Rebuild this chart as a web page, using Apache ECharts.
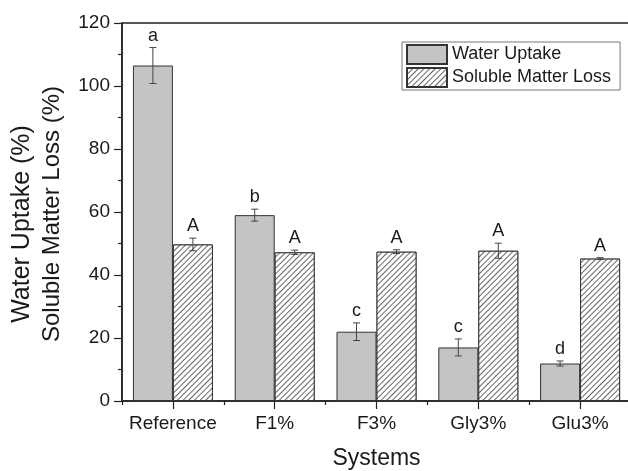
<!DOCTYPE html>
<html>
<head>
<meta charset="utf-8">
<script src="https://cdn.jsdelivr.net/npm/echarts@6/dist/echarts.min.js"></script>
<style>
  html, body { margin: 0; padding: 0; background: #fff; }
  #chart { width: 628px; height: 471px; }
</style>
</head>
<body>
<div id="chart"></div>
<script>
// Systems tested and their measured properties (%)
const categories = ['Reference', 'F1%', 'F3%', 'Gly3%', 'Glu3%'];
const waterUptake = [106.5, 59.0, 22.0, 17.0, 11.9];
const waterUptakeErr = [5.7, 1.9, 2.8, 2.7, 0.8];
const solubleLoss = [49.7, 47.2, 47.4, 47.7, 45.2];
const solubleLossErr = [2.0, 0.7, 0.6, 2.4, 0.3];
// Significance groups (Tukey letters)
const waterLetters = ['a', 'b', 'c', 'c', 'd'];
const lossLetters = ['A', 'A', 'A', 'A', 'A'];
const yTicks = { min: 0, max: 120, interval: 20 };
const yTitleLines = ['Water Uptake (%)', 'Soluble Matter Loss (%)'];

const FONT = '"Liberation Sans", Arial, Helvetica, sans-serif';
const BAR_W = 40;
const INK = '#1a1a1a';

function errorSeries(values, errs, letters, shift) {
  return {
    type: 'custom',
    z: 5,
    silent: true,
    data: values.map((v, i) => [i, v, errs[i]]),
    renderItem: function (params, api) {
      const idx = api.value(0);
      const v = api.value(1);
      const e = api.value(2);
      const letter = letters[idx];
      const hi = api.coord([idx, v + e]);
      const lo = api.coord([idx, v - e]);
      const x = hi[0] + shift;
      const cap = 3.5;
      const stroke = { stroke: '#444', lineWidth: 1 };
      return {
        type: 'group',
        children: [
          { type: 'line', shape: { x1: x, y1: hi[1], x2: x, y2: lo[1] }, style: stroke },
          { type: 'line', shape: { x1: x - cap, y1: hi[1], x2: x + cap, y2: hi[1] }, style: stroke },
          { type: 'line', shape: { x1: x - cap, y1: lo[1], x2: x + cap, y2: lo[1] }, style: stroke },
          {
            type: 'text',
            style: {
              text: letter, x: x, y: hi[1] - 12,
              align: 'center', verticalAlign: 'middle',
              textAlign: 'center', textVerticalAlign: 'middle',
              fill: INK, font: '18px ' + FONT
            }
          }
        ]
      };
    }
  };
}

function yTitle(text, x, y, size) {
  return {
    type: 'text',
    x: x, y: y,
    rotation: Math.PI / 2,
    style: {
      text: text,
      align: 'center', verticalAlign: 'middle',
      textAlign: 'center', textVerticalAlign: 'middle',
      fill: INK, font: size + 'px ' + FONT
    }
  };
}

const chart = echarts.init(document.getElementById('chart'), null, { renderer: 'canvas' });

chart.setOption({
  animation: false,
  backgroundColor: '#ffffff',
  textStyle: { fontFamily: FONT, color: INK },
  grid: {
    left: 122, top: 23, width: 509, height: 378,
    outerBoundsMode: 'none',
    containLabel: false,
    show: true, borderColor: '#222', borderWidth: 1.5, backgroundColor: 'transparent'
  },
  legend: {
    orient: 'vertical',
    left: 402, top: 42,
    padding: [2, 9, 2, 4],
    itemGap: 2,
    itemWidth: 40, itemHeight: 19,
    borderColor: '#777', borderWidth: 1,
    icon: 'rect',
    data: ['Water Uptake', 'Soluble Matter Loss'],
    textStyle: { fontSize: 18, color: INK, fontFamily: FONT }
  },
  graphic: [
    yTitle(yTitleLines[0], 22, 224, 25),
    yTitle(yTitleLines[1], 52, 214, 24)
  ],
  xAxis: [{
    type: 'category',
    data: categories,
    name: 'Systems',
    nameLocation: 'middle',
    nameGap: 46,
    nameTextStyle: { fontSize: 23, color: INK, fontFamily: FONT },
    axisLine: { show: true, lineStyle: { color: '#222', width: 1.5 } },
    axisTick: { show: true, alignWithLabel: true, length: 8, lineStyle: { color: '#222', width: 1.2 } },
    axisLabel: { interval: 0, fontSize: 19, color: INK, margin: 13, fontFamily: FONT },
    splitLine: { show: false }
  }, {
    // boundary ticks between systems
    type: 'category',
    data: categories,
    position: 'bottom',
    axisLine: { show: false },
    axisTick: { show: true, interval: 0, length: 4, lineStyle: { color: '#222', width: 1.2 } },
    axisLabel: { show: false },
    splitLine: { show: false }
  }],
  yAxis: {
    type: 'value',
    min: yTicks.min, max: yTicks.max, interval: yTicks.interval,
    axisLine: { show: true, lineStyle: { color: '#222', width: 1.5 } },
    axisTick: { show: true, length: 8, lineStyle: { color: '#222', width: 1.2 } },
    minorTick: { show: true, splitNumber: 2, length: 4, lineStyle: { color: '#222', width: 1.2 } },
    axisLabel: { fontSize: 19, color: INK, margin: 12, fontFamily: FONT },
    splitLine: { show: false }
  },
  series: [
    {
      name: 'Water Uptake',
      type: 'bar',
      data: waterUptake,
      barWidth: BAR_W,
      barGap: '0%',
      itemStyle: { color: '#c4c4c4', borderColor: '#333', borderWidth: 1 }
    },
    {
      name: 'Soluble Matter Loss',
      type: 'bar',
      data: solubleLoss,
      barWidth: BAR_W,
      barGap: '0%',
      itemStyle: {
        color: '#ffffff', borderColor: '#333', borderWidth: 1,
        decal: {
          symbol: 'rect', symbolSize: 1,
          dashArrayX: [1, 0], dashArrayY: [1, 3],
          rotation: -Math.PI / 4,
          color: '#666', backgroundColor: '#ffffff'
        }
      }
    },
    errorSeries(waterUptake, waterUptakeErr, waterLetters, -BAR_W / 2),
    errorSeries(solubleLoss, solubleLossErr, lossLetters, BAR_W / 2)
  ]
});
</script>
</body>
</html>
